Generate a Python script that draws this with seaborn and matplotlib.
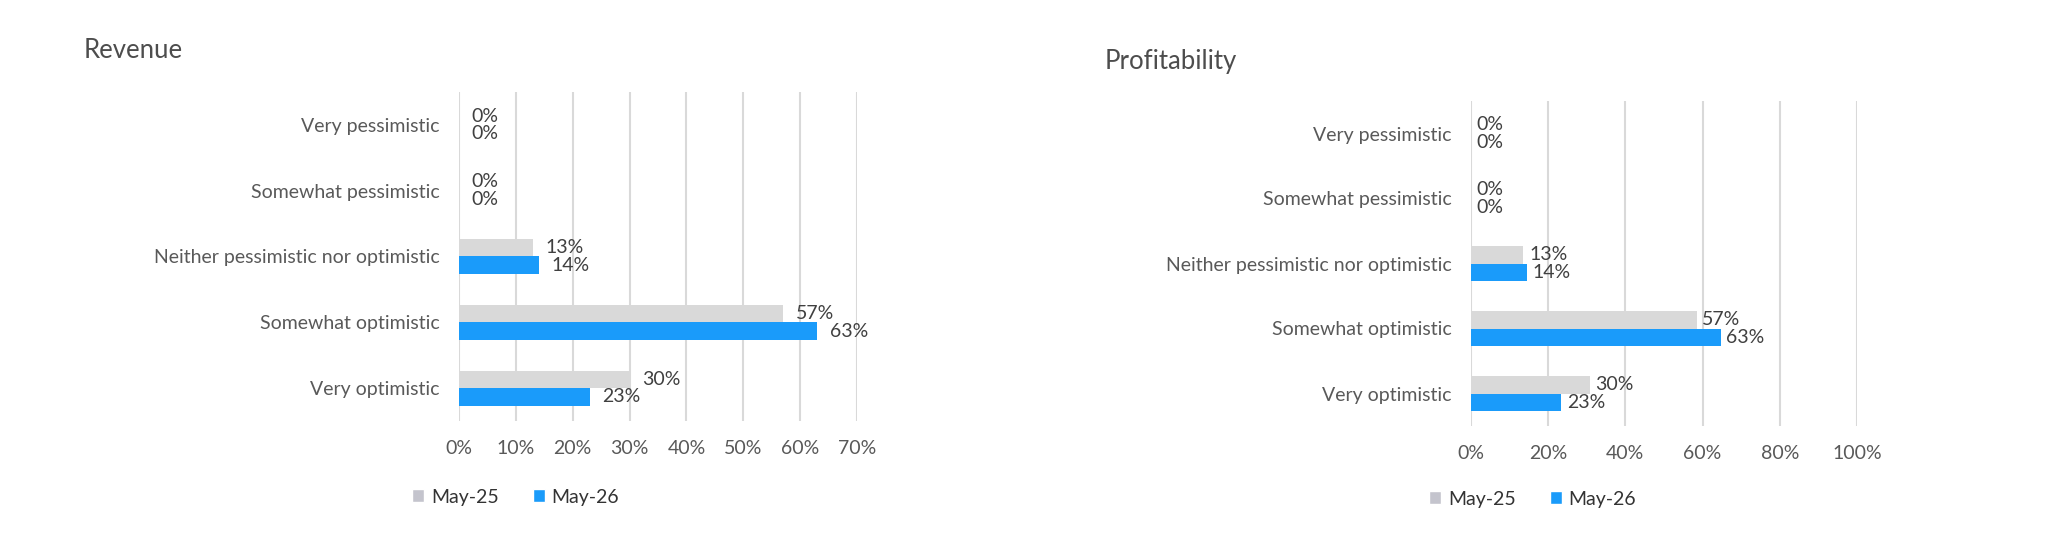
import matplotlib
matplotlib.use("Agg")
import matplotlib.pyplot as plt
import seaborn as sns
import pandas as pd
from matplotlib.patches import Patch

# Survey answers (top to bottom as in the chart)
categories = ["Very pessimistic", "Somewhat pessimistic",
              "Neither pessimistic nor optimistic", "Somewhat optimistic",
              "Very optimistic"]
periods = ["May-25", "May-26"]

# Revenue outlook (%)
revenue_may25 = [0, 0, 13, 57, 30]
revenue_may26 = [0, 0, 14, 63, 23]

# Profitability outlook (%), bar lengths as drawn, plus the printed labels
profit_may25 = [0, 0, 13.6, 58.5, 30.7]
profit_may26 = [0, 0, 14.5, 64.7, 23.4]
profit_labels_may25 = ["0%", "0%", "13%", "57%", "30%"]
profit_labels_may26 = ["0%", "0%", "14%", "63%", "23%"]

GREY = "#D9D9D9"
GREY_KEY = "#C4C4CD"
BLUE = "#1A9BFA"
TEXT = "#595959"
DARK = "#404040"
GRID = "#D9D9D9"


def to_long(a, b):
    return pd.DataFrame({
        "answer": categories * 2,
        "period": [periods[0]] * len(categories) + [periods[1]] * len(categories),
        "value": list(a) + list(b),
    })


sns.set_theme(style="white")
plt.rcParams["font.family"] = ["Lato", "DejaVu Sans"]

W, H = 2048, 533
fig = plt.figure(figsize=(W / 100, H / 100), dpi=100)


def px_axes(x0, x1, y0, y1):
    # axes placed from pixel edges of the reference
    return fig.add_axes([x0 / W, 1 - y1 / H, (x1 - x0) / W, (y1 - y0) / H])


def draw_panel(ax, df, xmax, step, labels_a, labels_b, pad):
    sns.barplot(data=df, y="answer", x="value", hue="period", hue_order=periods,
                palette=[GREY, BLUE], width=0.53, orient="h", ax=ax,
                legend=False, saturation=1, edgecolor="none")
    ax.set_xlim(0, xmax)
    ax.set_ylim(len(categories) - 0.5, -0.5)
    ax.set_xticks(range(0, xmax + 1, step))
    ax.set_xticklabels([f"{t}%" for t in range(0, xmax + 1, step)])
    ax.xaxis.grid(True, color=GRID, linewidth=1.5)
    ax.set_axisbelow(True)
    for s in ["top", "right", "bottom", "left"]:
        ax.spines[s].set_visible(False)
    ax.tick_params(axis="y", length=0, pad=14, labelsize=14, labelcolor=TEXT)
    ax.tick_params(axis="x", length=0, pad=14, labelsize=14, labelcolor=TEXT)
    ax.set_xlabel("")
    ax.set_ylabel("")
    for cont, labs in zip(ax.containers, [labels_a, labels_b]):
        ax.bar_label(cont, labels=labs, padding=pad, fontsize=14, color=DARK)


def add_legend(x, y):
    handles = [Patch(facecolor=GREY_KEY, label=periods[0]),
               Patch(facecolor=BLUE, label=periods[1])]
    fig.legend(handles=handles, loc="center left", bbox_to_anchor=(x / W, 1 - y / H),
               ncol=2, frameon=False, fontsize=14, handlelength=0.62, handleheight=0.62,
               handletextpad=0.35, columnspacing=1.75, borderpad=0, borderaxespad=0,
               labelcolor="#333333")


# Revenue panel
ax1 = px_axes(459, 857, 92, 421)
draw_panel(ax1, to_long(revenue_may25, revenue_may26), 70, 10,
           [f"{v}%" for v in revenue_may25], [f"{v}%" for v in revenue_may26], 9)
fig.text(84 / W, 1 - 51 / H, "Revenue", fontsize=18.5, color="#4D4D4D", va="center")
add_legend(412, 497)

# Profitability panel
ax2 = px_axes(1471, 1857, 101, 426)
draw_panel(ax2, to_long(profit_may25, profit_may26), 100, 20,
           profit_labels_may25, profit_labels_may26, 4)
fig.text(1105 / W, 1 - 62 / H, "Profitability", fontsize=18.5, color="#4D4D4D", va="center")
add_legend(1429, 499)

fig.savefig("out.png", dpi=100, facecolor="white")
